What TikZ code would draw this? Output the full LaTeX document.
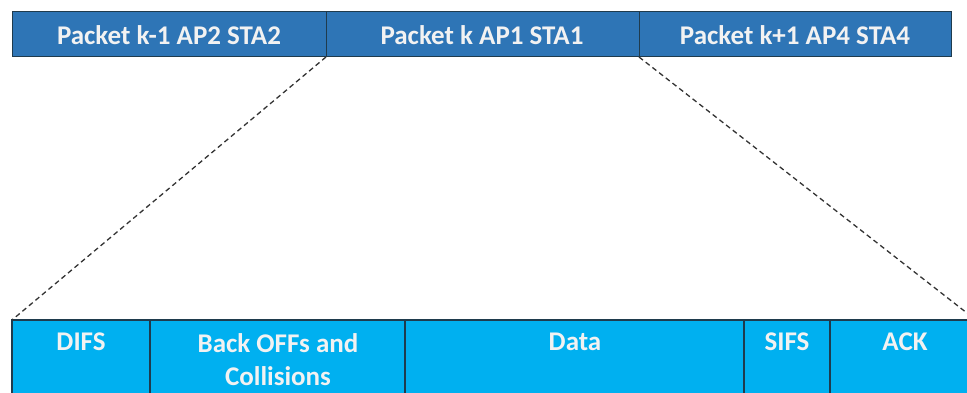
\documentclass[tikz,border=0pt]{standalone}
\usepackage{fontspec}
\setmainfont{Carlito}
\definecolor{pktblue}{HTML}{2E75B6}
\definecolor{slotblue}{HTML}{00B0F0}
\definecolor{edge}{HTML}{1F3B4D}
\definecolor{lbl}{HTML}{F2F2F2}
\begin{document}
\begin{tikzpicture}[x=1pt,y=-1pt,
  pkt/.style={draw=edge,line width=1pt,fill=pktblue},
  pktlabel/.style={text=lbl,font=\fontsize{27}{30}\selectfont\bfseries},
  slot/.style={draw=edge,line width=1.3pt,fill=slotblue},
  slotlabel/.style={text=lbl,font=\fontsize{27}{33}\selectfont\bfseries,align=center,anchor=north,inner sep=0pt},
  zoomline/.style={dash pattern=on 5pt off 3.5pt,line width=1.3pt,draw=black!80}]
\useasboundingbox (0,0) rectangle (967,393);
\clip (0,0) rectangle (967,393);
% upper row: packets
\draw[pkt] (12,12) rectangle (326,57);
\draw[pkt] (326,12) rectangle (639,57);
\draw[pkt] (639,12) rectangle (951,57);
\node[pktlabel] (p1) at (169,35) {Packet k-1 AP2 STA2};
\node[pktlabel] (p2) at (482,35) {Packet k AP1 STA1};
\node[pktlabel] (p3) at (795,35) {Packet k+1 AP4 STA4};
\coordinate (pl) at (326,57);
\coordinate (pr) at (639,57);
% lower row: slot breakdown
\draw[slot] (12,320) rectangle (150,420);
\draw[slot] (150,320) rectangle (405,420);
\draw[slot] (405,320) rectangle (744,420);
\draw[slot] (744,320) rectangle (830,420);
\draw[slot] (830,320) rectangle (990,420);
\coordinate (sl) at (12,320);
\coordinate (sr) at (990,331);
\node[slotlabel] (difs) at (81,333) {DIFS};
\node[slotlabel] (bo) at (278,333) {Back OFFs and\\Collisions};
\node[slotlabel] (data) at (575,333) {Data};
\node[slotlabel] (sifs) at (787,333) {SIFS};
\node[slotlabel] (ack) at (905,333) {ACK};
% zoom guides
\draw[zoomline] (pl) -- (sl);
\draw[zoomline] (pr) -- (sr);
\end{tikzpicture}
\end{document}
